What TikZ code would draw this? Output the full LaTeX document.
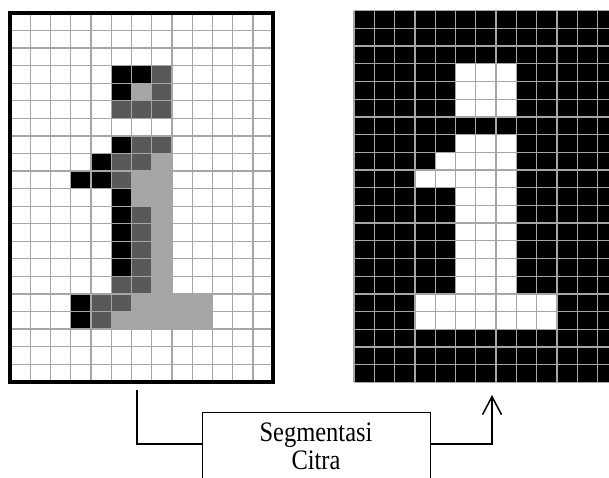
\documentclass[tikz,border=0pt]{standalone}
\usepackage{fontspec}
\setmainfont{Liberation Serif}
\usetikzlibrary{arrows.meta}
\definecolor{gline}{HTML}{A6A6A6}
\definecolor{dk}{HTML}{595959}
\definecolor{lt}{HTML}{A6A6A6}
\begin{document}
\begin{tikzpicture}[x=1pt,y=-1pt,
  gridline/.style={draw=gline,line width=1.3pt},
  conn/.style={line width=1.5pt,black},
  segbox/.style={draw,line width=1pt,minimum width=228pt,anchor=north,inner ysep=10.5pt,align=center,font=\fontsize{24.5}{28.3}\selectfont}]
\useasboundingbox (0,0) rectangle (609,477);
\clip (0,0) rectangle (609,477);
% ---- left grid (original image)
\begin{scope}[shift={(10,13)},xscale=20.25,yscale=17.56]
  \foreach \r/\c in {3/5,3/6,4/5,7/5,8/4,9/3,9/4,10/5,11/5,12/5,13/5,14/5,16/3,17/3}
    \fill[black] (\c,\r) rectangle ++(1,1);
  \foreach \r/\c in {3/7,4/7,5/5,5/6,5/7,7/6,7/7,8/5,8/6,9/5,11/6,12/6,13/6,14/6,15/5,15/6,16/4,16/5,17/4}
    \fill[dk] (\c,\r) rectangle ++(1,1);
  \foreach \r/\c in {4/6,8/7,9/6,9/7,10/6,10/7,11/7,12/7,13/7,14/7,15/7,16/6,16/7,16/8,16/9,17/5,17/6,17/7,17/8,17/9}
    \fill[lt] (\c,\r) rectangle ++(1,1);
  \foreach \i in {1,...,12} \draw[gridline] (\i,0) -- (\i,21);
  \foreach \j in {1,...,20} \draw[gridline] (0,\j) -- (13,\j);
  \draw[line width=4pt] (0,0) rectangle (13,21);
\end{scope}
% ---- right grid (segmented image)
\begin{scope}[shift={(354,10.7)},xscale=20.3,yscale=17.7]
  \fill[black] (0,0) rectangle (13,21);
  \foreach \r in {3,4,5,7,10,11,12,13,14,15} \foreach \c in {5,6,7}
    \fill[white] (\c,\r) rectangle ++(1,1);
  \foreach \c in {4,...,7} \fill[white] (\c,8) rectangle ++(1,1);
  \foreach \c in {3,...,7} \fill[white] (\c,9) rectangle ++(1,1);
  \foreach \r in {16,17} \foreach \c in {3,...,9}
    \fill[white] (\c,\r) rectangle ++(1,1);
  \foreach \i in {0,...,13} \draw[gridline] (\i,0) -- (\i,21);
  \foreach \j in {0,...,21} \draw[gridline] (0,\j) -- (13,\j);
\end{scope}
% ---- process box and connectors
\node[segbox] (seg) at (316,412) {\scalebox{1}[1.15]{Segmentasi}\\\scalebox{1}[1.15]{Citra}};
\coordinate (lstart) at (137,390);
\coordinate (rend) at (492,395);
\draw[conn] (lstart) |- ([yshift=-32pt]seg.north west);
\draw[conn,-{Straight Barb[length=18pt,width=19pt]}] ([yshift=-32pt]seg.north east) -| (rend);
\end{tikzpicture}
\end{document}
